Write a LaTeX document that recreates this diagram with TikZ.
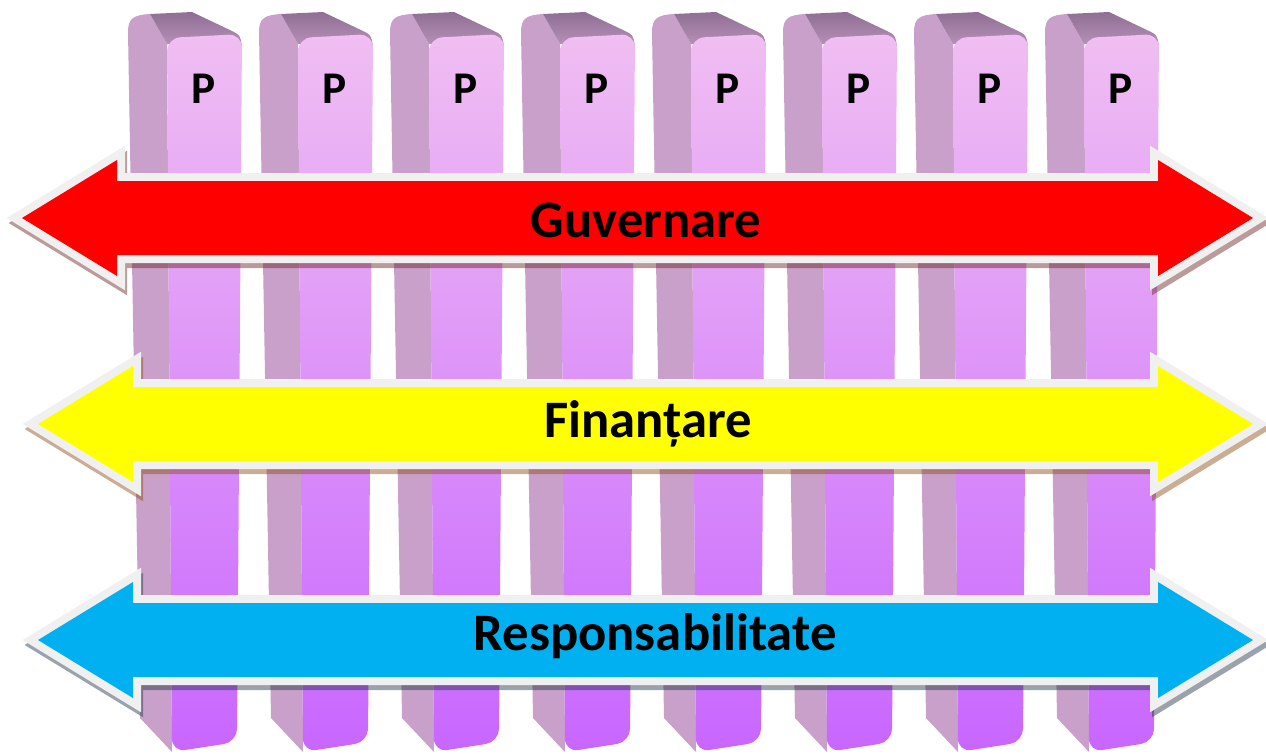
\documentclass[tikz,border=0pt]{standalone}
\usepackage{fontspec}
\setmainfont{Carlito}
\definecolor{pillarside}{HTML}{C9A0C9}
\definecolor{pillartop}{HTML}{8F6F94}
\definecolor{pillarlight}{HTML}{F0BEF2}
\definecolor{pillardeep}{HTML}{C866FF}
\definecolor{rim}{HTML}{F0F0F0}
\definecolor{govred}{HTML}{FF0000}
\definecolor{finyellow}{HTML}{FFFF00}
\definecolor{respblue}{HTML}{00B0F0}
\definecolor{redshade}{HTML}{6A2020}
\definecolor{yellowshade}{HTML}{8A4A10}
\definecolor{blueshade}{HTML}{203448}

\begin{document}
\begin{tikzpicture}[x=0.75pt,y=-0.75pt,
  band/.style n args={3}{insert path={(#1,#3) -- (#1+95,#3-58) -- (#1+95,#3-37)
    -- (#2-95,#3-37) -- (#2-95,#3-58) -- (#2,#3) -- (#2-95,#3+58) -- (#2-95,#3+37)
    -- (#1+95,#3+37) -- (#1+95,#3+58) -- cycle}},
  rimline/.style={draw=rim,line width=12pt},
  shadow/.style={draw=#1,line width=12pt,opacity=0.45,shift={(2,5)}},
  label/.style={font=\fontsize{39.5}{42}\selectfont\bfseries},
  ptext/.style={font=\fontsize{34}{36}\selectfont\bfseries}]
\useasboundingbox (0,0) rectangle (1266,753);

% the eight pillars
\foreach \n in {1,...,8}{
\begin{scope}[shift={(131*\n-131,0)}]
\fill[pillarside] (128,32) .. controls (128,18) and (134,15) .. (150,14) -- (167,44) -- (172,752) -- (140,718) -- cycle;
\shade[top color=pillartop,bottom color=pillarside!70!pillartop] (150,14) -- (192,12) -- (232,31) .. controls (240,35) .. (242,46) -- (167,44) -- cycle;
\shade[top color=pillarlight,bottom color=pillardeep] (169.5,400) [rounded corners=10] -- (167,38) -- (242,34) -- (237,742) -- (172,752) [sharp corners] -- cycle;
\node[ptext] (p\n) at (204,89) {P};
\end{scope}}

% the three bands
\path[shadow=redshade,band={22}{1253}{218}];
\draw[rimline,band={22}{1253}{218}];
\fill[govred,band={22}{1253}{218}];

\path[shadow=yellowshade,band={38}{1253}{424}];
\draw[rimline,band={38}{1253}{424}];
\fill[finyellow,band={38}{1253}{424}];

\path[shadow=blueshade,band={38}{1253}{640}];
\draw[rimline,band={38}{1253}{640}];
\fill[respblue,band={38}{1253}{640}];

\node[label,anchor=base] (gov) at (646,237) {Guvernare};
\node[label,anchor=base] (fin) at (648,437) {Finanțare};
\node[label,anchor=base] (resp) at (655,650) {Responsabilitate};
\end{tikzpicture}
\end{document}
